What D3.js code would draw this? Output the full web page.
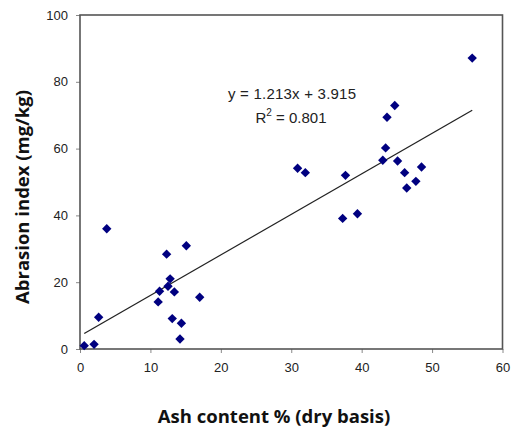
<!DOCTYPE html>
<html><head><meta charset="utf-8">
<script src="https://cdn.jsdelivr.net/npm/d3@7"></script>
<style>body{margin:0;background:#fff;} svg{display:block;}</style>
</head><body>
<svg id="chart" width="511" height="432"></svg>
<script>
const ashContent = [0.6, 2.0, 2.65, 3.8, 11.1, 11.3, 12.3, 12.5, 12.8, 13.1, 13.4, 14.2, 14.4, 15.1, 17.0,
  30.9, 32.0, 37.3, 37.7, 39.4, 43.0, 43.4, 43.6, 44.7, 45.1, 46.1, 46.4, 47.7, 48.5, 55.7];
const abrasionIndex = [1.0, 1.4, 9.5, 36.0, 14.1, 17.3, 28.4, 18.8, 21.0, 9.1, 17.1, 3.0, 7.7, 30.9, 15.5,
  54.1, 52.8, 39.1, 52.0, 40.5, 56.5, 60.2, 69.4, 72.9, 56.3, 52.8, 48.2, 50.2, 54.5, 87.1];
const slope = 1.213, intercept = 3.915;
const xTicks = [0, 10, 20, 30, 40, 50, 60];
const yTicks = [0, 20, 40, 60, 80, 100];
const equationText = "y = 1.213x + 3.915";
const xTitle = "Ash content % (dry basis)";
const yTitle = "Abrasion index (mg/kg)";

const svg = d3.select("#chart");
const L = 80, R = 502.5, T = 15, B = 349;
const x = d3.scaleLinear().domain([0, 60]).range([L, R]);
const y = d3.scaleLinear().domain([0, 100]).range([B, T]);

svg.append("g").attr("transform", `translate(0,${B})`)
  .call(d3.axisBottom(x).tickValues(xTicks).tickSize(4).tickPadding(10).tickFormat(d3.format("d")))
  .call(g => { g.select(".domain").remove(); g.selectAll("line").attr("stroke","#888");
    g.selectAll("text").attr("font-family","'Liberation Sans', Arial, sans-serif").attr("font-size",13).attr("fill","#222"); });
svg.append("g").attr("transform", `translate(${L},0)`)
  .call(d3.axisLeft(y).tickValues(yTicks).tickSize(4).tickPadding(8).tickFormat(d3.format("d")))
  .call(g => { g.select(".domain").remove(); g.selectAll("line").attr("stroke","#888");
    g.selectAll("text").attr("font-family","'Liberation Sans', Arial, sans-serif").attr("font-size",13).attr("fill","#222"); });

svg.append("rect").attr("x", L).attr("y", T).attr("width", R - L).attr("height", B - T)
  .attr("fill", "none").attr("stroke", "#555").attr("stroke-width", 1.6);

const xMin = d3.min(ashContent), xMax = d3.max(ashContent);
svg.append("line")
  .attr("x1", x(xMin)).attr("y1", y(slope * xMin + intercept))
  .attr("x2", x(xMax)).attr("y2", y(slope * xMax + intercept))
  .attr("stroke", "#222").attr("stroke-width", 1.3);

const sym = d3.symbol().type(d3.symbolSquare).size(44);
svg.append("g").selectAll("path").data(ashContent.map((v, i) => [v, abrasionIndex[i]]))
  .join("path").attr("d", sym)
  .attr("transform", d => `translate(${x(d[0])},${y(d[1])}) rotate(45)`)
  .attr("fill", "#000080");

const eq = svg.append("g").attr("font-family","'Liberation Sans', Arial, sans-serif").attr("font-size",15).attr("fill","#222").attr("text-anchor","middle");
eq.append("text").attr("x", 292).attr("y", 99).attr("textLength", 128).text(equationText);
const r2 = eq.append("text").attr("x", 291).attr("y", 123);
r2.append("tspan").text("R");
r2.append("tspan").attr("font-size", 10).attr("dy", -7).text("2");
r2.append("tspan").attr("dy", 7).text(" = 0.801");

svg.append("text").attr("x", 274).attr("y", 423).attr("text-anchor","middle")
  .attr("font-family","'Open Sans', sans-serif").attr("font-weight","bold").attr("font-size",18.5).attr("fill","#111")
  .text(xTitle);
svg.append("text").attr("transform","translate(29,197) rotate(-90)").attr("text-anchor","middle")
  .attr("font-family","'Open Sans', sans-serif").attr("font-weight","bold").attr("font-size",18.5).attr("fill","#111")
  .text(yTitle);
</script>
</body></html>
